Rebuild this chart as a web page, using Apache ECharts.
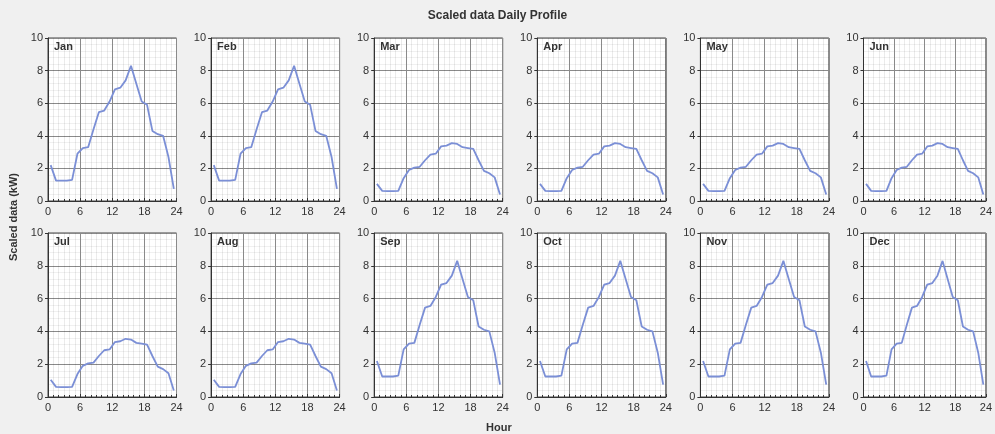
<!DOCTYPE html>
<html>
<head>
<meta charset="utf-8">
<script src="https://cdn.jsdelivr.net/npm/echarts@6/dist/echarts.min.js"></script>
<style>
html,body{margin:0;padding:0;background:#f0f0f0;}
#main{width:995px;height:434px;}
</style>
</head>
<body>
<div id="main"></div>
<script>
const months = ['Jan','Feb','Mar','Apr','May','Jun','Jul','Aug','Sep','Oct','Nov','Dec'];
const hours = [0.5,1.5,2.5,3.5,4.5,5.5,6.5,7.5,8.5,9.5,10.5,11.5,12.5,13.5,14.5,15.5,16.5,17.5,18.5,19.5,20.5,21.5,22.5,23.5];
const highProfile = [2.2,1.25,1.25,1.25,1.3,2.9,3.25,3.3,4.4,5.45,5.55,6.1,6.85,6.95,7.4,8.3,7.2,6.1,5.9,4.3,4.1,4.0,2.7,0.75];
const lowProfile = [1.05,0.62,0.6,0.6,0.62,1.4,1.9,2.05,2.1,2.5,2.85,2.9,3.35,3.4,3.55,3.5,3.3,3.25,3.2,2.5,1.85,1.7,1.45,0.4];
const monthProfiles = [highProfile,highProfile,lowProfile,lowProfile,lowProfile,lowProfile,lowProfile,lowProfile,highProfile,highProfile,highProfile,highProfile];
const xTicks = [0,6,12,18,24];
const yTicks = [0,2,4,6,8,10];

const chart = echarts.init(document.getElementById('main'));
const grids=[], xAxes=[], yAxes=[], series=[], titles=[];
const font = 'Liberation Sans, Arial, sans-serif';
titles.push({text:'Scaled data Daily Profile', left:'center', top:10, padding:0,
  textStyle:{fontSize:12, fontWeight:'bold', color:'#333', fontFamily:font}});
months.forEach((m,i)=>{
  const col=i%6, row=Math.floor(i/6);
  const left=48+col*163.1;
  const top=row===0?38:233;
  const height=row===0?163:164;
  grids.push({left:left, top:top, width:128.5, height:height, show:true,
    backgroundColor:'#fff', borderColor:'#444', borderWidth:1, containLabel:false});
  xAxes.push({type:'value', gridIndex:i, min:xTicks[0], max:xTicks[xTicks.length-1], interval:6,
    axisLine:{onZero:false, lineStyle:{color:'#333'}},
    axisTick:{show:true, inside:true, length:3, lineStyle:{color:'#333'}},
    minorTick:{show:true, splitNumber:6, length:2, lineStyle:{color:'#333'}},
    axisLabel:{color:'#333', fontSize:11, fontFamily:font, margin:5},
    splitLine:{show:true, lineStyle:{color:'#8a8a8a', width:1, type:'solid'}},
    minorSplitLine:{show:true, lineStyle:{color:'rgba(0,0,0,0.08)', width:1, type:'solid'}}});
  yAxes.push({type:'value', gridIndex:i, min:yTicks[0], max:yTicks[yTicks.length-1], interval:2,
    axisLine:{show:true, lineStyle:{color:'#333'}},
    axisTick:{show:true, inside:false, length:3, lineStyle:{color:'#333'}},
    minorTick:{show:false},
    axisLabel:{color:'#333', fontSize:11, fontFamily:font, margin:5},
    splitLine:{show:true, lineStyle:{color:'#8a8a8a', width:1, type:'solid'}},
    minorSplitLine:{show:true, lineStyle:{color:'rgba(0,0,0,0.06)', width:1, type:'solid'}}});
  series.push({type:'line', xAxisIndex:i, yAxisIndex:i, showSymbol:false, symbol:'none',
    data:hours.map((h,k)=>[h, monthProfiles[i][k]]),
    lineStyle:{color:'#7b8fd6', width:1.8}, itemStyle:{color:'#7b8fd6'}, animation:false});
  titles.push({text:m, left:left+6, top:top+3, padding:0,
    textStyle:{fontSize:11, fontWeight:'bold', color:'#333', fontFamily:font}});
});
chart.setOption({
  backgroundColor:'#f0f0f0',
  animation:false,
  title:titles,
  grid:grids, xAxis:xAxes, yAxis:yAxes, series:series,
  graphic:[
    {type:'text', left:486, top:422, style:{text:'Hour', font:'bold 11px '+font, fill:'#333'}},
    {type:'text', x:14, y:217, rotation:Math.PI/2, style:{text:'Scaled data (kW)', font:'bold 11px '+font, fill:'#333', align:'center', verticalAlign:'middle'}}
  ]
});
</script>
</body>
</html>
